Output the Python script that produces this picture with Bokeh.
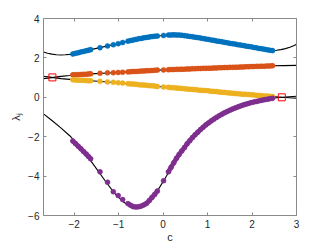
from bokeh.plotting import figure
from bokeh.models import Range1d, LinearAxis, FixedTicker, CustomLabelingPolicy
from bokeh.embed import file_html
from bokeh.resources import INLINE

# ---------------- data ----------------
# numerical eigenvalues (dots), shared parameter values c
c_dots = [-2.03, -1.97, -1.91, -1.85, -1.79, -1.73, -1.68, -1.63,
          -1.42, -1.25, -1.12, -1.01, -0.91,
          -0.79, -0.73, -0.67, -0.61, -0.55, -0.49, -0.43, -0.37, -0.31, -0.25, -0.19, -0.13,
          0.01,
          0.12, 0.18, 0.24, 0.30, 0.36, 0.42, 0.48, 0.54, 0.60, 0.66, 0.72, 0.78, 0.84, 0.90,
          0.96, 1.02, 1.08, 1.14, 1.20, 1.26, 1.32, 1.38, 1.44, 1.50, 1.56, 1.62, 1.68, 1.74,
          1.80, 1.86, 1.92, 1.98, 2.04, 2.10, 2.16, 2.22, 2.28, 2.34, 2.40, 2.46]

lam1 = [2.20, 2.23, 2.26, 2.30, 2.33, 2.36, 2.39, 2.42,
        2.52, 2.61, 2.67, 2.72, 2.78,
        2.85, 2.88, 2.91, 2.94, 2.97, 2.99, 3.02, 3.04, 3.06, 3.08, 3.10, 3.11,
        3.14,
        3.16, 3.16, 3.17, 3.16, 3.16, 3.15, 3.13, 3.11, 3.09, 3.07, 3.05, 3.03, 3.01, 2.98,
        2.96, 2.94, 2.91, 2.89, 2.86, 2.84, 2.82, 2.79, 2.77, 2.74, 2.72, 2.70, 2.67, 2.65,
        2.63, 2.60, 2.58, 2.56, 2.53, 2.51, 2.48, 2.46, 2.44, 2.41, 2.39, 2.37]

lam2 = [1.14, 1.15, 1.15, 1.16, 1.17, 1.17, 1.18, 1.19,
        1.22, 1.24, 1.25, 1.26, 1.27,
        1.29, 1.30, 1.31, 1.31, 1.32, 1.33, 1.34, 1.35, 1.35, 1.36, 1.37, 1.38,
        1.39,
        1.40, 1.41, 1.41, 1.42, 1.42, 1.43, 1.43, 1.44, 1.44, 1.45, 1.45, 1.46, 1.46, 1.47,
        1.47, 1.48, 1.48, 1.49, 1.49, 1.50, 1.50, 1.51, 1.51, 1.52, 1.52, 1.53, 1.53, 1.54,
        1.54, 1.55, 1.55, 1.56, 1.56, 1.57, 1.57, 1.58, 1.58, 1.59, 1.59, 1.60]

lam3 = [0.89, 0.88, 0.87, 0.87, 0.86, 0.85, 0.84, 0.84,
        0.81, 0.78, 0.76, 0.74, 0.72,
        0.69, 0.68, 0.67, 0.66, 0.64, 0.63, 0.62, 0.61, 0.59, 0.58, 0.57, 0.55,
        0.52,
        0.51, 0.49, 0.48, 0.47, 0.46, 0.45, 0.43, 0.42, 0.41, 0.40, 0.39, 0.37, 0.36, 0.35,
        0.34, 0.33, 0.31, 0.30, 0.29, 0.27, 0.26, 0.25, 0.23, 0.22, 0.21, 0.19, 0.18, 0.17,
        0.16, 0.15, 0.14, 0.13, 0.12, 0.10, 0.09, 0.08, 0.07, 0.06, 0.05, 0.04]

lam4 = [-2.22, -2.35, -2.48, -2.61, -2.75, -2.88, -3.00, -3.12,
        -3.78, -4.31, -4.79, -4.99, -5.19,
        -5.40, -5.48, -5.55, -5.57, -5.56, -5.52, -5.46, -5.38, -5.24, -5.08, -4.93, -4.76,
        -4.23,
        -3.78, -3.55, -3.32, -3.10, -2.90, -2.72, -2.55, -2.36, -2.20, -2.04, -1.90, -1.77, -1.64, -1.52,
        -1.40, -1.30, -1.20, -1.11, -1.02, -0.94, -0.86, -0.79, -0.72, -0.66, -0.60, -0.54, -0.49, -0.44,
        -0.39, -0.35, -0.31, -0.27, -0.24, -0.21, -0.18, -0.15, -0.12, -0.10, -0.07, -0.05]

# index ranges of the densely sampled stretches of c_dots
dense_runs = [(0, 8), (13, 25), (26, 66)]

# analytic branches (black curves)
c_b1 = [-2.69, -2.6, -2.5, -2.4, -2.3, -2.2, -2.1, -2.03, -1.85, -1.63, -1.42, -1.25, -1.01,
        -0.79, -0.55, -0.31, -0.13, 0.01, 0.18, 0.30, 0.42, 0.54, 0.72, 0.96, 1.26, 1.56,
        1.86, 2.16, 2.46, 2.55, 2.65, 2.75, 2.85, 2.95, 3.0]
v_b1 = [2.30, 2.24, 2.19, 2.16, 2.15, 2.16, 2.18, 2.20, 2.30, 2.42, 2.52, 2.61, 2.72,
        2.85, 2.97, 3.06, 3.11, 3.14, 3.16, 3.16, 3.15, 3.11, 3.05, 2.96, 2.84, 2.72,
        2.60, 2.48, 2.37, 2.39, 2.42, 2.47, 2.54, 2.63, 2.69]

c_b2 = [-2.69, -2.5, -2.3, -2.1, -2.03, -1.63, -1.01, -0.79, -0.13, 0.12, 0.72, 1.32, 1.92,
        2.46, 2.7, 3.0]
v_b2 = [0.95, 1.00, 1.06, 1.11, 1.13, 1.19, 1.26, 1.29, 1.38, 1.40, 1.45, 1.50, 1.55,
        1.60, 1.61, 1.62]

c_b3 = [-2.69, -2.5, -2.3, -2.1, -2.03, -1.63, -1.01, -0.79, -0.13, 0.12, 0.54, 0.96, 1.44,
        1.98, 2.46, 2.67, 3.0]
v_b3 = [1.07, 1.01, 0.95, 0.91, 0.89, 0.84, 0.74, 0.69, 0.55, 0.51, 0.42, 0.34, 0.23,
        0.13, 0.04, 0.00, -0.05]

c_b4 = [-2.69, -2.5, -2.3, -2.1, -1.9, -1.7, -1.5, -1.3, -1.1, -0.9, -0.75, -0.65, -0.55,
        -0.4, -0.25, -0.1, 0.05, 0.2, 0.35, 0.5, 0.7, 0.9, 1.1, 1.3, 1.5, 1.7, 1.9, 2.1,
        2.3, 2.46, 2.67, 3.0]
v_b4 = [-0.84, -1.18, -1.55, -1.95, -2.45, -3.00, -3.62, -4.25, -4.85, -5.30, -5.52, -5.58,
        -5.55, -5.40, -5.10, -4.65, -4.10, -3.50, -2.95, -2.50, -1.95, -1.55, -1.20, -0.90,
        -0.66, -0.48, -0.33, -0.21, -0.12, -0.05, 0.00, 0.05]

# special points (red squares)
c_sq = [-2.49, 2.67]
v_sq = [1.01, 0.00]

x_ticks = [-2, -1, 0, 1, 2, 3]
y_ticks = [-6, -4, -2, 0, 2, 4]

colors = ["#0072BD", "#D95319", "#EDB120", "#7E2F8E"]

# ---------------- figure ----------------
FONT = "Liberation Sans"
TXT = "#262626"
AX = "#8a8a8a"

p = figure(width=327, height=245, x_range=Range1d(-2.69, 3), y_range=Range1d(-6, 4),
           output_backend="svg", toolbar_location=None,
           min_border_left=43, min_border_right=31, min_border_top=18, min_border_bottom=28)
p.grid.visible = False
p.outline_line_color = None
p.background_fill_color = "white"
p.border_fill_color = "white"

def style_axis(ax, labels=True):
    ax.axis_line_color = AX
    ax.axis_line_width = 1
    ax.major_tick_line_color = AX
    ax.major_tick_in = 3
    ax.major_tick_out = 0
    ax.minor_tick_line_color = None
    ax.major_label_text_font = FONT
    ax.major_label_text_color = TXT
    ax.major_label_text_font_size = "10px"
    ax.axis_label_text_font = FONT
    ax.axis_label_text_color = TXT
    ax.axis_label_text_font_size = "11px"
    ax.axis_label_text_font_style = "normal"
    if not labels:
        ax.major_label_policy = CustomLabelingPolicy(code="return new Set()")

p.xaxis.ticker = FixedTicker(ticks=x_ticks)
p.yaxis.ticker = FixedTicker(ticks=y_ticks)
style_axis(p.xaxis[0])
style_axis(p.yaxis[0])
p.xaxis.axis_label = "c"
p.yaxis.axis_label = "λⱼ"
p.xaxis.major_label_standoff = 4
p.xaxis.axis_label_standoff = 0
p.yaxis.major_label_standoff = 4
p.yaxis.axis_label_standoff = 3

ax_r = LinearAxis(ticker=FixedTicker(ticks=y_ticks), major_label_standoff=0)
style_axis(ax_r, labels=False)
p.add_layout(ax_r, "right")
ax_t = LinearAxis(ticker=FixedTicker(ticks=x_ticks), major_label_standoff=0)
style_axis(ax_t, labels=False)
p.add_layout(ax_t, "above")

# black analytic curves
for cx, vy in [(c_b1, v_b1), (c_b2, v_b2), (c_b3, v_b3), (c_b4, v_b4)]:
    p.line(cx, vy, line_color="black", line_width=1.1)

# numerical dots (dense stretches merge into continuous bands)
for vals, col in zip([lam1, lam2, lam3, lam4], colors):
    xs = [c_dots[a:b] for a, b in dense_runs]
    ys = [vals[a:b] for a, b in dense_runs]
    p.multi_line(xs, ys, line_color=col, line_width=4.5, line_cap="round", line_join="round")
    p.scatter(c_dots, vals, size=5, fill_color=col, line_color=col, line_width=0.5)

# red squares
p.scatter(c_sq, v_sq, marker="square", size=7, fill_color=None, line_color="#FF0000",
          line_width=1)

open("out.html", "w").write(file_html(p, INLINE))
